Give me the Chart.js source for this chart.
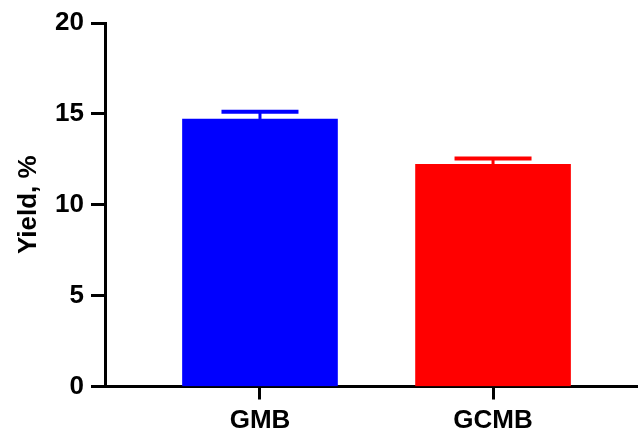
<!DOCTYPE html>
<html>
<head>
<meta charset="utf-8">
<script src="https://cdn.jsdelivr.net/npm/chart.js@4"></script>
<style>
  body { margin: 0; background: #fff; }
</style>
</head>
<body>
<canvas id="yieldChart" width="638" height="435"></canvas>
<script>
const categories = ['GMB', 'GCMB'];
const yieldMeans = [14.72, 12.22];
const yieldErrors = [0.4, 0.33];
const barColors = ['#0000ff', '#ff0000'];
const yTicks = [0, 5, 10, 15, 20];

// draws the upper error bar (stem + cap) over each bar
const errorBars = {
    id: 'errorBars',
    afterDatasetsDraw(chart) {
        const ctx = chart.ctx;
        const xs = chart.scales.x, ys = chart.scales.y;
        ctx.save();
        yieldMeans.forEach((v, i) => {
            const x = xs.getPixelForValue(i);
            const yTop = ys.getPixelForValue(v + yieldErrors[i]);
            const yBar = ys.getPixelForValue(v);
            ctx.strokeStyle = barColors[i];
            ctx.lineWidth = 3;
            ctx.beginPath();
            ctx.moveTo(x, yBar);
            ctx.lineTo(x, yTop);
            ctx.stroke();
            ctx.lineWidth = 4;
            ctx.beginPath();
            ctx.moveTo(x - 38.5, yTop);
            ctx.lineTo(x + 38.5, yTop);
            ctx.stroke();
        });
        ctx.restore();
    }
};

const tickFont = { family: 'Arial, Liberation Sans', size: 26, weight: 'bold' };

const ctx = document.getElementById('yieldChart').getContext('2d');
new Chart(ctx, {
    type: 'bar',
    data: {
        datasets: [{
            data: yieldMeans.map((y, i) => ({ x: i, y: y })),
            backgroundColor: barColors,
            borderWidth: 0,
            barThickness: 155
        }]
    },
    options: {
        responsive: false,
        animation: false,
        layout: { padding: { top: 23, right: 0, left: 0, bottom: 0 } },
        plugins: { legend: { display: false }, tooltip: { enabled: false } },
        scales: {
            x: {
                type: 'linear',
                offset: false,
                min: -0.665,
                max: 1.622,
                afterBuildTicks: s => { s.ticks = categories.map((c, i) => ({ value: i })); },
                afterFit: s => { s.height = 48.5; },
                ticks: {
                    callback: v => categories[v],
                    color: '#000',
                    font: tickFont,
                    padding: 6,
                    maxRotation: 0
                },
                grid: { offset: false, drawOnChartArea: false, drawTicks: true, tickLength: 13, tickWidth: 3, color: '#000' },
                border: { color: '#000', width: 3 }
            },
            y: {
                min: 0,
                max: 20,
                afterBuildTicks: s => { s.ticks = yTicks.map(v => ({ value: v })); },
                afterFit: s => { s.width = 105; },
                ticks: {
                    color: '#000',
                    font: tickFont,
                    padding: 7
                },
                title: {
                    display: true,
                    text: 'Yield, %',
                    color: '#000',
                    font: tickFont,
                    padding: { top: 13, bottom: 0 }
                },
                grid: { drawOnChartArea: false, drawTicks: true, tickLength: 14, tickWidth: 3, color: '#000' },
                border: { color: '#000', width: 3 }
            }
        }
    },
    plugins: [errorBars]
});
</script>
</body>
</html>
